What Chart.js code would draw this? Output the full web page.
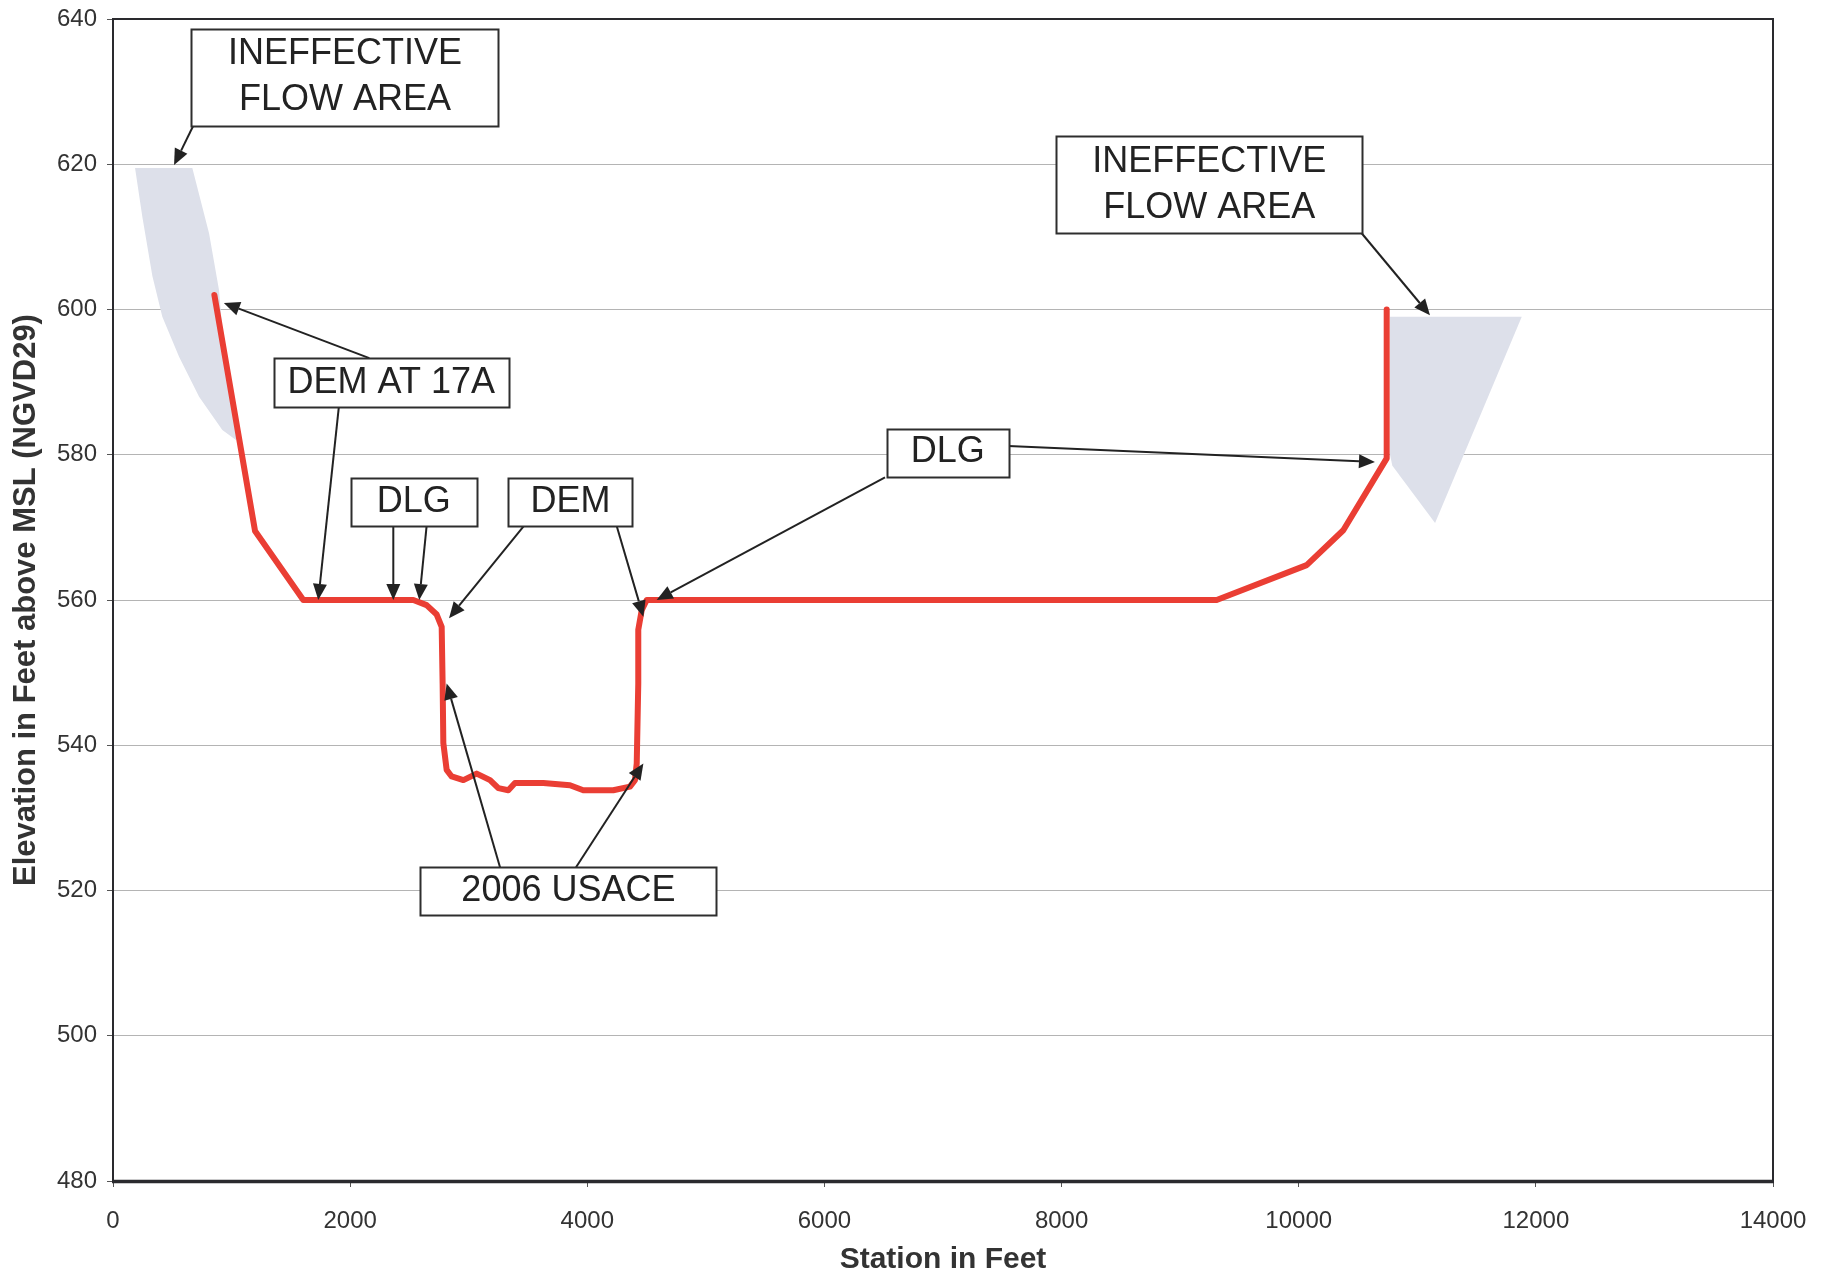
<!DOCTYPE html>
<html>
<head>
<meta charset="utf-8">
<script src="https://cdn.jsdelivr.net/npm/chart.js"></script>
<style>
  html, body { margin: 0; padding: 0; background: #ffffff; }
  #wrap { width: 1832px; height: 1276px; }
</style>
</head>
<body>
<div id="wrap"><canvas id="c" width="1832" height="1276"></canvas></div>
<script>
// ---------------- DATA ----------------
const xTickValues = [0, 2000, 4000, 6000, 8000, 10000, 12000, 14000];
const yTickValues = [480, 500, 520, 540, 560, 580, 600, 620, 640];

// Ground profile (station ft, elevation ft)
const profileStation = [855, 1198, 1605, 2533, 2645, 2730, 2772, 2780, 2786, 2814, 2856, 2955, 3067, 3180, 3250, 3334, 3390, 3629, 3854, 3966, 4219, 4360, 4402, 4417, 4430, 4430, 4459, 4501, 9308, 10067, 10376, 10742, 10742];
const profileElevation = [602, 569.5, 560, 560, 559.3, 558, 556.3, 548.5, 540.3, 536.6, 535.7, 535.2, 536.1, 535.2, 534.1, 533.8, 534.8, 534.8, 534.5, 533.8, 533.8, 534.3, 535.2, 537.5, 548.5, 555.9, 558.6, 560, 560, 564.8, 569.6, 579.5, 600];

// Ineffective flow areas (outline polygons)
const leftIneffStation = [186, 669, 810, 894, 937, 1036, 1040, 922, 726, 557, 416, 332, 247, 186];
const leftIneffElevation = [619.5, 619.5, 610.5, 602.7, 594.4, 583.4, 582, 583.4, 588, 593.5, 599, 604.6, 612.8, 619.5];
const rightIneffStation = [10770, 11881, 11150, 10790, 10770, 10770];
const rightIneffElevation = [599, 599, 570.6, 578.5, 580, 599];

// Callout texts
const calloutLabels = ['INEFFECTIVE\nFLOW AREA', 'INEFFECTIVE\nFLOW AREA', 'DEM AT 17A', 'DLG', 'DEM', 'DLG', '2006 USACE'];

const xTitle = 'Station in Feet';
const yTitle = 'Elevation in Feet above MSL (NGVD29)';

function toPoints(xs, ys) { return xs.map((v, i) => ({ x: v, y: ys[i] })); }

// ---------------- CALLOUT LAYOUT ----------------
const boxes = [
  { label: 0, sx: 1956, ey: 632.0, w: 307, h: 97 },
  { label: 1, sx: 9245, ey: 617.2, w: 306, h: 97 },
  { label: 2, sx: 2347, ey: 589.9, w: 235, h: 49 },
  { label: 3, sx: 2537, ey: 573.5, w: 126, h: 48 },
  { label: 4, sx: 3858, ey: 573.5, w: 124, h: 48 },
  { label: 5, sx: 7040, ey: 580.3, w: 122, h: 48 },
  { label: 6, sx: 3841, ey: 519.9, w: 296, h: 48 }
];
const arrows = [
  { from: [677, 625.3], to: [515, 619.9] },
  { from: [10531, 610.5], to: [11107, 599.2] },
  { from: [2162, 593.3], to: [935, 600.9] },
  { from: [1904, 586.5], to: [1731, 560] },
  { from: [2364, 570.2], to: [2364, 560] },
  { from: [2645, 570.2], to: [2583, 560] },
  { from: [3466, 570.2], to: [2834, 557.5] },
  { from: [4248, 570.2], to: [4473, 557.7] },
  { from: [6511, 576.9], to: [4585, 560] },
  { from: [7551, 581.2], to: [10643, 579.0] },
  { from: [3264, 523.2], to: [2814, 548.5] },
  { from: [3905, 523.2], to: [4473, 537.5] }
];

const FONT = '"Liberation Sans", Arial, Helvetica, sans-serif';

const calloutPlugin = {
  id: 'callouts',
  afterDatasetsDraw(chart) {
    const { ctx, chartArea: a, scales } = chart;
    const xs = scales.x, ys = scales.y;
    ctx.save();
    // plot frame
    ctx.strokeStyle = '#2a2a2e';
    ctx.lineWidth = 2;
    ctx.strokeRect(a.left, a.top, a.right - a.left, a.bottom - a.top);
    ctx.lineWidth = 3.5;
    ctx.beginPath();
    ctx.moveTo(a.left - 1, a.bottom + 0.5);
    ctx.lineTo(a.right + 1, a.bottom + 0.5);
    ctx.stroke();

    // arrows
    ctx.strokeStyle = '#222';
    ctx.fillStyle = '#222';
    ctx.lineWidth = 2;
    arrows.forEach(ar => {
      const x0 = xs.getPixelForValue(ar.from[0]), y0 = ys.getPixelForValue(ar.from[1]);
      const x1 = xs.getPixelForValue(ar.to[0]), y1 = ys.getPixelForValue(ar.to[1]);
      const ang = Math.atan2(y1 - y0, x1 - x0);
      const hl = 16, hw = 7;
      const bx = x1 - hl * Math.cos(ang), by = y1 - hl * Math.sin(ang);
      ctx.beginPath();
      ctx.moveTo(x0, y0);
      ctx.lineTo(bx, by);
      ctx.stroke();
      ctx.beginPath();
      ctx.moveTo(x1, y1);
      ctx.lineTo(bx + hw * Math.sin(ang), by - hw * Math.cos(ang));
      ctx.lineTo(bx - hw * Math.sin(ang), by + hw * Math.cos(ang));
      ctx.closePath();
      ctx.fill();
    });

    // boxes
    boxes.forEach(b => {
      const cx = xs.getPixelForValue(b.sx), cy = ys.getPixelForValue(b.ey);
      const l = Math.round(cx - b.w / 2) + 0.5, t = Math.round(cy - b.h / 2) + 0.5;
      ctx.fillStyle = '#ffffff';
      ctx.fillRect(l, t, b.w, b.h);
      ctx.strokeStyle = '#2e2e2e';
      ctx.lineWidth = 2;
      ctx.strokeRect(l, t, b.w, b.h);
      ctx.fillStyle = '#222';
      ctx.font = '36px ' + FONT;
      ctx.textAlign = 'center';
      ctx.textBaseline = 'middle';
      const lines = calloutLabels[b.label].split('\n');
      const lh = 46;
      lines.forEach((ln, i) => {
        ctx.fillText(ln, cx, cy + (i - (lines.length - 1) / 2) * lh);
      });
    });
    ctx.restore();
  }
};

const ctx = document.getElementById('c').getContext('2d');
new Chart(ctx, {
  type: 'scatter',
  data: {
    datasets: [
      {
        label: 'Ineffective flow area (left)',
        data: toPoints(leftIneffStation, leftIneffElevation),
        showLine: true,
        fill: 'shape',
        backgroundColor: 'rgb(221,224,234)',
        borderWidth: 0,
        borderColor: 'rgba(0,0,0,0)',
        pointRadius: 0,
        tension: 0,
        order: 2
      },
      {
        label: 'Ineffective flow area (right)',
        data: toPoints(rightIneffStation, rightIneffElevation),
        showLine: true,
        fill: 'shape',
        backgroundColor: 'rgb(221,224,234)',
        borderWidth: 0,
        borderColor: 'rgba(0,0,0,0)',
        pointRadius: 0,
        tension: 0,
        order: 2
      },
      {
        label: 'Ground profile',
        data: toPoints(profileStation, profileElevation),
        showLine: true,
        fill: false,
        borderColor: 'rgb(234,62,52)',
        borderWidth: 6,
        borderJoinStyle: 'round',
        borderCapStyle: 'round',
        pointRadius: 0,
        tension: 0,
        order: 1
      }
    ]
  },
  options: {
    responsive: false,
    devicePixelRatio: 1,
    animation: false,
    layout: { padding: { left: 0, top: 19, right: 59, bottom: 0 } },
    plugins: {
      legend: { display: false },
      tooltip: { enabled: false }
    },
    scales: {
      x: {
        type: 'linear',
        min: xTickValues[0],
        max: xTickValues[xTickValues.length - 1],
        afterBuildTicks: (s) => { s.ticks = xTickValues.map(v => ({ value: v })); },
        afterFit: (s) => { s.height = 95; s.paddingLeft = 0; s.paddingRight = 0; s.paddingTop = 0; s.paddingBottom = 0; },
        border: { display: false },
        grid: {
          display: true,
          drawOnChartArea: false,
          drawTicks: true,
          tickLength: 6,
          tickColor: '#555',
          tickWidth: 1
        },
        ticks: {
          padding: 20,
          color: '#333',
          font: { family: FONT, size: 24 },
          maxRotation: 0,
          autoSkip: false,
          callback: (v) => String(v)
        },
        title: {
          display: true,
          text: xTitle,
          color: '#333',
          font: { family: FONT, size: 30, weight: 'bold', lineHeight: 1 },
          padding: { top: 0, bottom: 1 }
        }
      },
      y: {
        type: 'linear',
        min: yTickValues[0],
        max: yTickValues[yTickValues.length - 1],
        afterBuildTicks: (s) => { s.ticks = yTickValues.map(v => ({ value: v })); },
        afterFit: (s) => { s.width = 113; s.paddingLeft = 0; s.paddingRight = 0; s.paddingTop = 0; s.paddingBottom = 0; },
        border: { display: false },
        grid: {
          display: true,
          drawOnChartArea: true,
          color: '#b4b4b4',
          lineWidth: 1,
          drawTicks: true,
          tickLength: 6,
          tickColor: '#555',
          tickWidth: 1
        },
        ticks: {
          padding: 10,
          color: '#333',
          font: { family: FONT, size: 24 },
          autoSkip: false,
          callback: (v) => String(v)
        },
        title: {
          display: true,
          text: yTitle,
          color: '#333',
          font: { family: FONT, size: 31, weight: 'bold', lineHeight: 1.2 },
          padding: { top: 8, bottom: 0 }
        }
      }
    }
  },
  plugins: [calloutPlugin]
});
</script>
</body>
</html>
